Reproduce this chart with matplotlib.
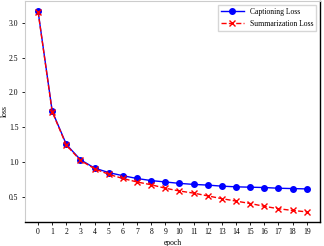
import matplotlib.pyplot as plt

plt.rcParams['font.family'] = ['Liberation Serif', 'DejaVu Serif']

epochs = list(range(20))
captioning = [3.17, 1.73, 1.25, 1.03, 0.91, 0.845, 0.80, 0.76, 0.73, 0.71,
              0.69, 0.675, 0.665, 0.65, 0.64, 0.635, 0.63, 0.62, 0.615, 0.61]
summarization = [3.16, 1.72, 1.24, 1.02, 0.90, 0.82, 0.76, 0.71, 0.67, 0.62,
                 0.58, 0.55, 0.51, 0.47, 0.435, 0.40, 0.36, 0.325, 0.30, 0.28]

fig = plt.figure(figsize=(3.24, 2.46), dpi=100)
ax = fig.add_axes([0.076, 0.098, 0.912, 0.898])

ax.plot(epochs, captioning, color='blue', marker='o', markersize=4,
        linewidth=1, label='Captioning Loss')
ax.plot(epochs, summarization, color='red', marker='x', markersize=4,
        linestyle='--', linewidth=1, markeredgewidth=1, label='Summarization Loss')

ax.set_xticks(epochs)
ax.set_yticks([0.5, 1.0, 1.5, 2.0, 2.5, 3.0])
ax.tick_params(labelsize=5.5, length=2.5, width=0.6, pad=2)
ax.set_xlabel('epoch', fontsize=5.5, labelpad=2)
ax.set_ylabel('loss', fontsize=5.5)
ax.yaxis.set_label_coords(-0.052, 0.5)

for s in ['left', 'top']:
    ax.spines[s].set_color('#cccccc')
for s in ['bottom', 'right']:
    ax.spines[s].set_color('black')
    ax.spines[s].set_linewidth(1)

ax.legend(loc='upper right', fontsize=5.5, frameon=True, fancybox=False,
          edgecolor='#cccccc', handlelength=3)

plt.savefig('out.png', dpi=100)
